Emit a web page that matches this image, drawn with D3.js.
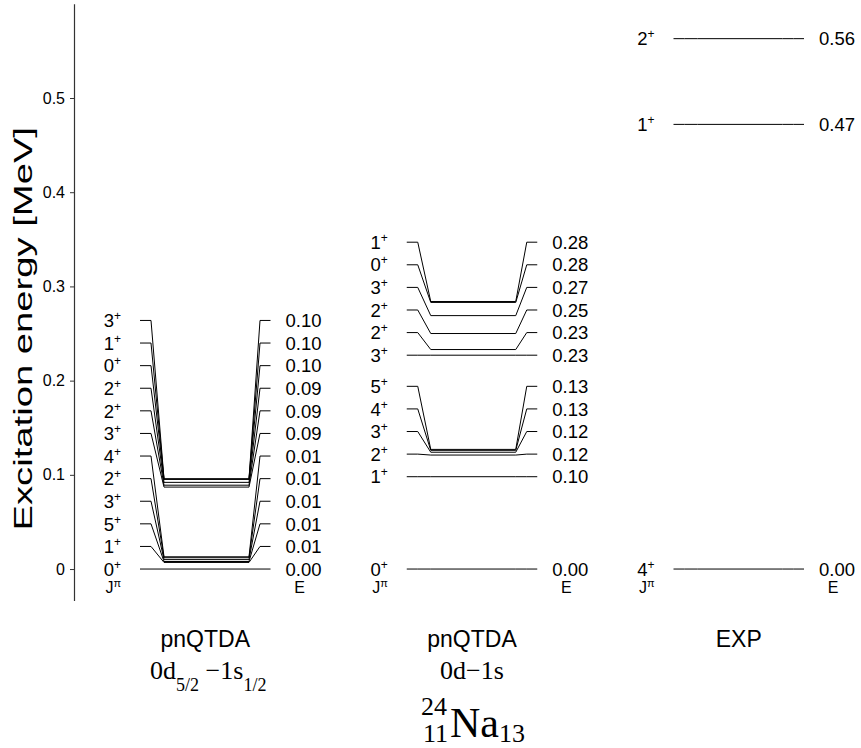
<!DOCTYPE html>
<html>
<head>
<meta charset="utf-8">
<script src="https://cdn.jsdelivr.net/npm/d3@7"></script>
<style>
  body { margin: 0; background: #fff; }
  text { fill: #000; }
</style>
</head>
<body>
<svg id="chart" width="861" height="748"></svg>
<script>
// Low-lying levels of 24Na (excitation energy in MeV), listed from the ground state up.
const smallSpaceSpins    = ["0+", "1+", "5+", "3+", "2+", "4+", "3+", "2+", "2+", "0+", "1+", "3+"];
const smallSpaceEnergies = [0.000, 0.007, 0.008, 0.010, 0.012, 0.013, 0.087, 0.089, 0.092, 0.0952, 0.0955, 0.0958];

const fullSpaceSpins     = ["0+", "1+", "2+", "3+", "4+", "5+", "3+", "2+", "2+", "3+", "0+", "1+"];
const fullSpaceEnergies  = [0.000, 0.098, 0.121, 0.124, 0.126, 0.127, 0.227, 0.233, 0.250, 0.269, 0.283, 0.284];

const expSpins           = ["4+", "1+", "2+"];
const expEnergies        = [0.000, 0.472, 0.563];

const columnKeys   = ["small", "full", "exp"];
const columnTitles = ["pnQTDA", "pnQTDA", "EXP"];

const yTickValues = [0, 0.1, 0.2, 0.3, 0.4, 0.5];
const yTickLabels = ["0", "0.1", "0.2", "0.3", "0.4", "0.5"];

const columns = [
  { key: "small", spins: smallSpaceSpins, energies: smallSpaceEnergies },
  { key: "full",  spins: fullSpaceSpins,  energies: fullSpaceEnergies },
  { key: "exp",   spins: expSpins,        energies: expEnergies }
];

const SANS = "'Liberation Sans', Arial, Helvetica, sans-serif";
const SERIF = "'Liberation Serif', 'Times New Roman', serif";

const svg = d3.select("#chart");

const y = d3.scaleLinear().domain([-0.0335, 0.6]).range([600.6, 3.8]);
const colX = d3.scalePoint().domain(columnKeys).range([140, 673.5]);

// Level-diagram geometry (px along a column): left stub, slope, level, slope, right stub
const seg = [0, 11, 24, 109, 120, 130.5];
const LABEL_GAP = 22.6;
const colWidth = seg[seg.length - 1];

// Y axis
const axis = d3.axisLeft(y)
  .tickValues(yTickValues)
  .tickFormat((d, i) => yTickLabels[i])
  .tickSize(4)
  .tickSizeOuter(0)
  .tickPadding(5);

const gAxis = svg.append("g").attr("transform", "translate(74,0)").call(axis);
gAxis.select(".domain").attr("stroke", "#333").attr("stroke-width", 1.2);
gAxis.selectAll(".tick line").attr("stroke", "#333");
gAxis.selectAll(".tick text").attr("font-family", SANS).attr("font-size", 16).attr("fill", "#000");

// Axis title, drawn with the tall lettering of the figure
svg.append("text")
  .attr("transform", "translate(32,127) rotate(-90) scale(1.47,1)")
  .attr("text-anchor", "end")
  .attr("font-family", SANS)
  .attr("font-size", 26)
  .text("Excitation energy [MeV]");

const line = d3.line();
const fmt = d3.format(".2f");

columns.forEach(col => {
  const x0 = colX(col.key);
  // levels sorted by energy; labels stacked so they never overlap
  const levels = col.energies.map((e, i) => ({ e, spin: col.spins[i] }))
    .sort((a, b) => a.e - b.e);
  let prev = Infinity;
  levels.forEach(lv => {
    lv.ey = y(lv.e);
    lv.ly = Math.min(lv.ey, prev - LABEL_GAP);
    prev = lv.ly;
  });

  const g = svg.append("g");

  g.selectAll("path.level")
    .data(levels)
    .join("path")
    .attr("class", "level")
    .attr("fill", "none")
    .attr("stroke", "#000")
    .attr("stroke-width", 1)
    .attr("d", lv => line([
      [x0 + seg[0], lv.ly], [x0 + seg[1], lv.ly],
      [x0 + seg[2], lv.ey], [x0 + seg[3], lv.ey],
      [x0 + seg[4], lv.ly], [x0 + seg[5], lv.ly]
    ]));

  // spin-parity labels
  const jt = g.selectAll("text.spin")
    .data(levels)
    .join("text")
    .attr("class", "spin")
    .attr("x", x0 - 19)
    .attr("y", lv => lv.ly)
    .attr("dy", "0.36em")
    .attr("text-anchor", "end")
    .attr("font-family", SANS)
    .attr("font-size", 18.5);
  jt.append("tspan").text(lv => lv.spin.slice(0, -1));
  jt.append("tspan").attr("font-size", 12).attr("dy", -7).text(lv => lv.spin.slice(-1));

  // energy labels
  g.selectAll("text.energy")
    .data(levels)
    .join("text")
    .attr("class", "energy")
    .attr("x", x0 + colWidth + 15)
    .attr("y", lv => lv.ly)
    .attr("dy", "0.36em")
    .attr("font-family", SANS)
    .attr("font-size", 18.5)
    .text(lv => fmt(lv.e));

  // column headers J^pi and E
  const hj = g.append("text")
    .attr("x", x0 - 19).attr("y", 593)
    .attr("text-anchor", "end")
    .attr("font-family", SANS).attr("font-size", 16);
  hj.append("tspan").text("J");
  hj.append("tspan").attr("font-size", 11).attr("dy", -6).text("π");

  g.append("text")
    .attr("x", x0 + colWidth + 29).attr("y", 593)
    .attr("text-anchor", "middle")
    .attr("font-family", SANS).attr("font-size", 16)
    .text("E");
});

// Column titles
columnKeys.forEach((k, i) => {
  svg.append("text")
    .attr("x", colX(k) + colWidth / 2)
    .attr("y", 647)
    .attr("text-anchor", "middle")
    .attr("font-family", SANS)
    .attr("font-size", 23)
    .text(columnTitles[i]);
});

// Model-space subtitles
const sub1 = svg.append("text")
  .attr("x", colX("small") + colWidth / 2 + 3)
  .attr("y", 679)
  .attr("text-anchor", "middle")
  .attr("font-family", SERIF)
  .attr("font-size", 26);
sub1.append("tspan").text("0d");
sub1.append("tspan").attr("font-size", 18).attr("dy", 12).text("5/2");
sub1.append("tspan").attr("dy", -12).text(" \u22121s");
sub1.append("tspan").attr("font-size", 18).attr("dy", 12).text("1/2");

svg.append("text")
  .attr("x", colX("full") + colWidth / 2)
  .attr("y", 679)
  .attr("text-anchor", "middle")
  .attr("font-family", SERIF)
  .attr("font-size", 26)
  .text("0d\u22121s");

// Nuclide symbol
const cx = colX("full") + colWidth / 2;
svg.append("text").attr("x", cx - 25).attr("y", 715).attr("text-anchor", "end")
  .attr("font-family", SERIF).attr("font-size", 26).text("24");
svg.append("text").attr("x", cx - 24).attr("y", 742).attr("text-anchor", "end")
  .attr("font-family", SERIF).attr("font-size", 26).text("11");
svg.append("text").attr("x", cx - 22).attr("y", 737)
  .attr("font-family", SERIF).attr("font-size", 42).text("Na");
svg.append("text").attr("x", cx + 27).attr("y", 742)
  .attr("font-family", SERIF).attr("font-size", 26).text("13");
</script>
</body>
</html>
